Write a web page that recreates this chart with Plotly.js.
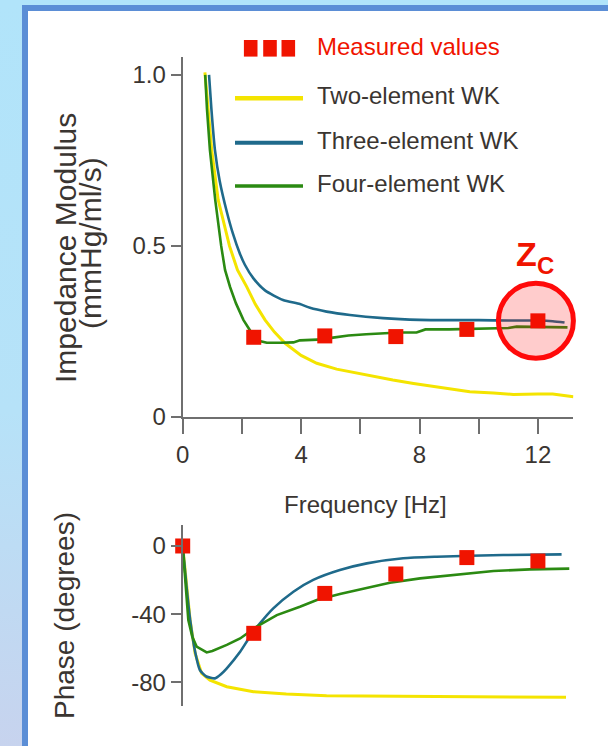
<!DOCTYPE html>
<html><head><meta charset="utf-8">
<script src="https://cdn.plot.ly/plotly-3.0.1.min.js"></script>
<style>
html,body{margin:0;padding:0;width:608px;height:746px;overflow:hidden;}
body{background:linear-gradient(to bottom,#b1e4fa 0%,#b6e2f8 55%,#c7d3ee 100%);position:relative;}
#panel{position:absolute;left:22px;top:5px;width:640px;height:800px;border:6px solid #5b8ed6;background:#fff;box-sizing:border-box;}
#chart{position:absolute;left:0;top:0;width:608px;height:746px;}
</style></head><body><div id="panel"></div><div id="chart"></div>
<script>
// ---------- DATA ----------
const seriesNames = ["Measured values", "Two-element WK", "Three-element WK", "Four-element WK"];
const measuredFreq = [2.4, 4.8, 7.2, 9.6, 12.0];
const measuredModulus = [0.233, 0.237, 0.235, 0.256, 0.281];
const measuredPhaseFreq = [0, 2.4, 4.8, 7.2, 9.6, 12.0];
const measuredPhase = [0, -51.2, -27.8, -16.4, -6.8, -8.8];

const twoModFreq = [0.75,0.85,0.98,1.2,1.37,1.58,1.85,2.16,2.45,2.78,3.1,3.46,4.0,4.53,5.2,5.88,6.5,7.1,7.8,8.58,9.7,10.5,11.17,12.0,12.5,13.2];
const twoModulus = [1.007,0.9,0.78,0.634,0.57,0.5,0.43,0.381,0.33,0.284,0.248,0.2155,0.18,0.157,0.14,0.128,0.117,0.108,0.098,0.0886,0.074,0.07,0.066,0.067,0.067,0.059];

const threeModFreq = [0.89,0.97,1.09,1.25,1.49,1.7,1.92,2.1,2.39,2.78,3.39,3.96,4.3,4.86,5.65,6.77,8.0,9.0,10.0,11.0,12.0,12.5,12.9];
const threeModulus = [1.0,0.9,0.78,0.69,0.6,0.535,0.48,0.445,0.405,0.37,0.342,0.330,0.319,0.308,0.298,0.289,0.284,0.283,0.283,0.282,0.282,0.280,0.276];

const fourModFreq = [0.76,0.82,0.92,1.1,1.3,1.43,1.6,1.8,2.05,2.22,2.4,2.6,2.84,3.3,3.74,3.96,4.4,4.75,5.08,5.6,6.2,6.78,7.3,7.9,8.2,9.0,9.6,10.7,11.0,11.28,12.0,13.0];
const fourModulus = [1.0,0.9,0.78,0.634,0.5,0.43,0.38,0.332,0.284,0.259,0.236,0.222,0.217,0.217,0.218,0.224,0.225,0.227,0.232,0.238,0.242,0.245,0.247,0.247,0.256,0.256,0.257,0.259,0.26,0.264,0.264,0.262];

const twoPhaseFreq = [0,0.13,0.25,0.42,0.64,0.92,1.49,2.39,3.5,4.86,6.33,9.0,11.0,12.95];
const twoPhase = [0,-24,-43.4,-63,-74.7,-78.6,-82.5,-85.4,-86.8,-87.8,-88.0,-88.3,-88.5,-88.7];

const threePhaseFreq = [0,0.13,0.25,0.42,0.58,0.8,1.09,1.3,1.49,1.94,2.27,2.61,3.06,3.74,4.41,5.31,6.22,7.45,8.58,10.83,12.8];
const threePhase = [0,-24,-43,-62,-72.7,-76.5,-77.6,-75,-71.7,-62,-53.2,-45.4,-36.6,-26.8,-19.9,-14.1,-10.2,-7.2,-6.3,-5.3,-4.9];

const fourPhaseFreq = [0,0.19,0.32,0.47,0.81,1.0,1.49,1.94,2.5,3.18,3.96,4.53,5.31,6.22,7.0,8.02,9.14,10.5,11.73,13.06];
const fourPhase = [0,-43.4,-53,-59,-62.4,-61.6,-58,-54.2,-47.3,-40.5,-35.6,-31.7,-28.2,-24.8,-21.5,-19,-17,-14.7,-13.7,-13.3];

const freqTickVals = [0,4,8,12];
const freqTickText = ["0","4","8","12"];
const modTickVals = [0,0.5,1.0];
const modTickText = ["0","0.5","1.0"];
const phaseTickVals = [0,-40,-80];
const phaseTickText = ["0","-40","-80"];
const xTitle = "Frequency [Hz]";
const modTitle1 = "Impedance Modulus";
const modTitle2 = "(mmHg/ml/s)";
const phaseTitle = "Phase (degrees)";
const zcMain = "Z";
const zcSub = "C";

// ---------- LAYOUT ----------
const W = 608, H = 746;
const PX = v => v / W;           // pixel x -> paper
const PY = v => 1 - v / H;       // pixel y -> paper
const colors = {meas:"#f01400", two:"#f4e400", three:"#1f6a8b", four:"#2b8a12", axis:"#6f6f6f", text:"#3a3531"};
const FONT = "'Liberation Sans',Arial,Helvetica,sans-serif";

const xLeftPx = 182.7, pxPerHz = 29.6, xRange = [0, 13.2];
const xDomain = [PX(xLeftPx), PX(xLeftPx + (xRange[1]-xRange[0])*pxPerHz)];
const modRange = [0, 1.053], modBottomPx = 417, modTopPx = 56.7;
const phaseRange = [-93.8, 12.3], phBottomPx = 706, phTopPx = 525;
const pxPerMod = (modBottomPx - modTopPx) / (modRange[1]-modRange[0]);

function line(x, y, color, width, xa, ya, shape) {
  return {x, y, xaxis: xa, yaxis: ya, type: "scatter", mode: "lines", line: {color, width, shape: shape || "linear", smoothing: 0.6}, hoverinfo: "skip", showlegend: false};
}
const traces = [
  line(twoModFreq, twoModulus, colors.two, 3, "x", "y"),
  line(threeModFreq, threeModulus, colors.three, 2.6, "x", "y", "spline"),
  line(fourModFreq, fourModulus, colors.four, 2.6, "x", "y"),
  {x: measuredFreq, y: measuredModulus, xaxis:"x", yaxis:"y", type:"scatter", mode:"markers", marker:{symbol:"square", size:15, color:colors.meas}, showlegend:false, cliponaxis:false},
  line(twoPhaseFreq, twoPhase, colors.two, 3, "x2", "y2"),
  line(threePhaseFreq, threePhase, colors.three, 2.6, "x2", "y2", "spline"),
  line(fourPhaseFreq, fourPhase, colors.four, 2.6, "x2", "y2"),
  {x: measuredPhaseFreq, y: measuredPhase, xaxis:"x2", yaxis:"y2", type:"scatter", mode:"markers", marker:{symbol:"square", size:15, color:colors.meas}, showlegend:false, cliponaxis:false}
];

const axisCommon = {showgrid:false, zeroline:false, showline:true, linecolor:colors.axis, linewidth:2,
  ticks:"outside", tickcolor:colors.axis, tickwidth:2, automargin:false, fixedrange:true,
  tickfont:{family:FONT, size:24, color:colors.text}};

// legend keys
const shapes = [];
const lx0 = 235, lx1 = 303;
[250.7, 270, 288.3].forEach(cx => shapes.push({type:"rect", xref:"paper", yref:"paper",
  x0:PX(cx-6.8), x1:PX(cx+6.8), y0:PY(48.3+8.3), y1:PY(48.3-8.3), fillcolor:colors.meas, line:{width:0}}));
[[98.3, colors.two, 4.5],[142.7, colors.three, 4],[186, colors.four, 3.5]].forEach(([y,c,w]) =>
  shapes.push({type:"line", xref:"paper", yref:"paper", x0:PX(lx0), x1:PX(lx1), y0:PY(y), y1:PY(y), line:{color:c, width:w}}));
// Zc circle around last measured modulus point (paper refs so it is not clipped by the plot area)
const zcx = measuredFreq[measuredFreq.length-1], zcy = measuredModulus[measuredModulus.length-1];
const cxPx = xLeftPx + (zcx - xRange[0]) * pxPerHz - 2, cyPx = modBottomPx - (zcy - modRange[0]) * pxPerMod;
const rPx = 37.5;
shapes.push({type:"circle", xref:"paper", yref:"paper", layer:"above",
  x0: PX(cxPx - rPx), x1: PX(cxPx + rPx), y0: PY(cyPx + rPx), y1: PY(cyPx - rPx),
  line:{color:"#ff0a0a", width:5}, fillcolor:"rgba(255,0,0,0.2)"});

const annotations = [];
const legendY = [46, 96, 140, 183.5];
seriesNames.forEach((n,i) => annotations.push({text:n, xref:"paper", yref:"paper", x:PX(315), y:PY(legendY[i]),
  xanchor:"left", yanchor:"middle", showarrow:false, font:{family:FONT, size:24, color: i===0 ? colors.meas : colors.text}}));
annotations.push({text:xTitle, xref:"paper", yref:"paper", x:PX(365), y:PY(504), xanchor:"center", yanchor:"middle", showarrow:false,
  font:{family:FONT, size:24, color:colors.text}});
annotations.push({text:modTitle1, xref:"paper", yref:"paper", x:PX(65), y:PY(248), xanchor:"center", yanchor:"middle", textangle:-90, showarrow:false,
  font:{family:FONT, size:30, color:colors.text}});
annotations.push({text:modTitle2, xref:"paper", yref:"paper", x:PX(90), y:PY(243), xanchor:"center", yanchor:"middle", textangle:-90, showarrow:false,
  font:{family:FONT, size:30, color:colors.text}});
annotations.push({text:phaseTitle, xref:"paper", yref:"paper", x:PX(64), y:PY(616), xanchor:"center", yanchor:"middle", textangle:-90, showarrow:false,
  font:{family:FONT, size:28, color:colors.text}});
annotations.push({text:zcMain, xref:"paper", yref:"paper", x:PX(514), y:PY(254), xanchor:"left", yanchor:"middle", showarrow:false,
  font:{family:FONT, size:34, color:"#f01400", weight:700}});
annotations.push({text:zcSub, xref:"paper", yref:"paper", x:PX(535), y:PY(265), xanchor:"left", yanchor:"middle", showarrow:false,
  font:{family:FONT, size:24, color:"#f01400", weight:700}});

const layout = {
  width:W, height:H, margin:{l:0,r:0,t:0,b:0}, paper_bgcolor:"rgba(0,0,0,0)", plot_bgcolor:"rgba(0,0,0,0)",
  showlegend:false,
  xaxis: Object.assign({}, axisCommon, {domain:xDomain, range:xRange, anchor:"y", tickvals:freqTickVals, ticktext:freqTickText, ticklen:15,
    minor:{dtick:2, tick0:0, ticks:"outside", ticklen:15, tickwidth:2, tickcolor:colors.axis, showgrid:false}}),
  yaxis: Object.assign({}, axisCommon, {domain:[PY(modBottomPx), PY(modTopPx)], range:modRange, anchor:"x", tickvals:modTickVals, ticktext:modTickText, ticklen:10}),
  xaxis2: {domain:xDomain, range:xRange, anchor:"y2", visible:false, fixedrange:true},
  yaxis2: Object.assign({}, axisCommon, {domain:[PY(phBottomPx), PY(phTopPx)], range:phaseRange, anchor:"x2", tickvals:phaseTickVals, ticktext:phaseTickText, ticklen:10}),
  shapes, annotations
};
Plotly.newPlot("chart", traces, layout, {displayModeBar:false, staticPlot:true});
</script></body></html>
